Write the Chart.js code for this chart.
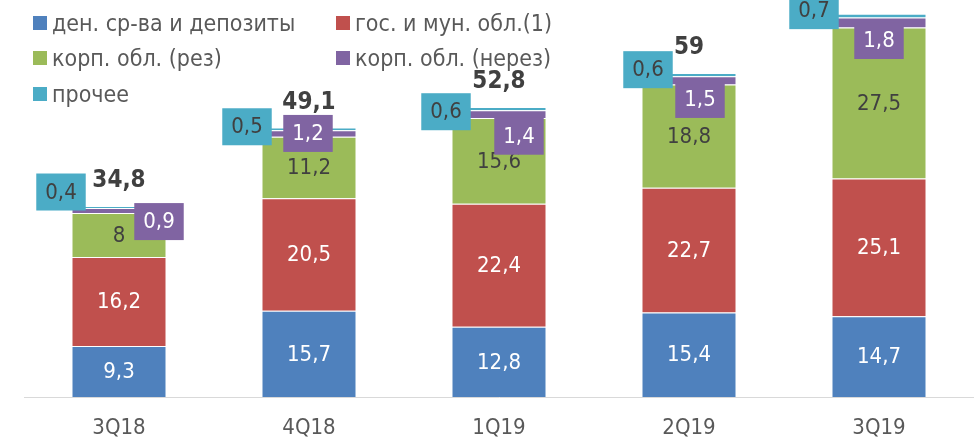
<!DOCTYPE html>
<html lang="ru">
<head>
<meta charset="UTF-8">
<title>Структура портфеля</title>
<script src="https://cdn.jsdelivr.net/npm/chart.js"></script>
<style>
    html, body { margin: 0; padding: 0; background: #fff; }
    #wrap { position: relative; width: 974px; height: 443px; overflow: hidden; }
    #legend {
        position: absolute; left: 33px; top: 5px;
        display: grid; grid-template-columns: 303px auto;
        font: 23px "DejaVu Sans Condensed", "DejaVu Sans", sans-serif;
        color: #595959;
    }
    .item { display: flex; align-items: center; height: 35.5px; white-space: nowrap; }
    .sw { width: 14px; height: 14px; margin-right: 5px; flex: none; }
</style>
</head>
<body>
<div id="wrap">
    <canvas id="chart" width="974" height="443"></canvas>
    <div id="legend"></div>
</div>
<script>
    const FONT = '"DejaVu Sans Condensed", "DejaVu Sans", sans-serif';

    const quarters = ['3Q18', '4Q18', '1Q19', '2Q19', '3Q19'];
    const seriesNames = ['ден. ср-ва и депозиты', 'гос. и мун. обл.(1)', 'корп. обл. (рез)', 'корп. обл. (нерез)', 'прочее'];
    const cash = [9.3, 15.7, 12.8, 15.4, 14.7];
    const govBonds = [16.2, 20.5, 22.4, 22.7, 25.1];
    const corpRes = [8, 11.2, 15.6, 18.8, 27.5];
    const corpNonRes = [0.9, 1.2, 1.4, 1.5, 1.8];
    const other = [0.4, 0.5, 0.6, 0.6, 0.7];

    const colors = ['#4F81BD', '#C0504D', '#9BBB59', '#8064A2', '#4BACC6'];

    // where the small callout boxes sit, relative to their segment
    const nonResShift = [[40, 11], [-1, 0], [20, 22], [11, 19], [0, 18]];
    const otherShift = [[-58, -15], [-62, -2], [-53, 3], [-41, -5], [-65, -5]];

    const allSeries = [cash, govBonds, corpRes, corpNonRes, other];

    // legend (2 columns, like the original)
    const legendEl = document.getElementById('legend');
    seriesNames.forEach((name, i) => {
        const it = document.createElement('div');
        it.className = 'item';
        it.innerHTML = '<span class="sw" style="background:' + colors[i] + '"></span><span>' + name + '</span>';
        legendEl.appendChild(it);
    });

    function fmt(v) {
        return String(Math.round(v * 10) / 10).replace('.', ',');
    }

    const labelPlugin = {
        id: 'labels',
        afterDatasetsDraw(chart) {
            const ctx = chart.ctx;
            ctx.save();
            ctx.textAlign = 'center';
            ctx.textBaseline = 'middle';
            ctx.font = '22px ' + FONT;
            chart.data.datasets.forEach((ds, d) => {
                const meta = chart.getDatasetMeta(d);
                meta.data.forEach((el, i) => {
                    const mid = (el.y + el.base) / 2;
                    const txt = fmt(ds.data[i]);
                    if (d < 3) {
                        ctx.fillStyle = d === 2 ? '#404040' : '#ffffff';
                        ctx.fillText(txt, el.x, mid + 1);
                    } else {
                        const sh = d === 3 ? nonResShift[i] : otherShift[i];
                        const cx = el.x + sh[0], cy = mid + sh[1];
                        const w = ctx.measureText(txt).width + 18;
                        ctx.fillStyle = colors[d];
                        ctx.fillRect(cx - w / 2, cy - 18.5, w, 37);
                        ctx.fillStyle = d === 3 ? '#ffffff' : '#404040';
                        ctx.fillText(txt, cx, cy + 1);
                    }
                });
            });
            // totals above the bars
            const top = chart.getDatasetMeta(chart.data.datasets.length - 1);
            ctx.font = 'bold 24px ' + FONT;
            ctx.fillStyle = '#404040';
            quarters.forEach((q, i) => {
                let sum = 0;
                allSeries.forEach(s => sum += s[i]);
                const el = top.data[i];
                ctx.fillText(fmt(sum), el.x, el.y - 25);
            });
            ctx.restore();
        }
    };

    new Chart(document.getElementById('chart').getContext('2d'), {
        type: 'bar',
        data: {
            labels: quarters,
            datasets: allSeries.map((s, i) => ({
                label: seriesNames[i],
                data: s,
                backgroundColor: colors[i],
                borderColor: 'rgba(255,255,255,0.55)',
                borderWidth: 1,
                barPercentage: 0.5,
                categoryPercentage: 1
            }))
        },
        options: {
            responsive: false,
            animation: false,
            devicePixelRatio: 1,
            layout: { padding: { left: 24, right: 0, top: 0, bottom: 0 } },
            plugins: {
                legend: { display: false },
                tooltip: { enabled: false }
            },
            scales: {
                x: {
                    stacked: true,
                    grid: { display: false, drawTicks: false },
                    border: { display: true, color: '#d9d9d9', width: 1 },
                    ticks: { color: '#595959', font: { family: FONT, size: 22 }, padding: 18 },
                    afterFit(scale) { scale.height = 46; }
                },
                y: {
                    stacked: true,
                    display: false,
                    min: 0,
                    max: 72.3
                }
            }
        },
        plugins: [labelPlugin]
    });
</script>
</body>
</html>
